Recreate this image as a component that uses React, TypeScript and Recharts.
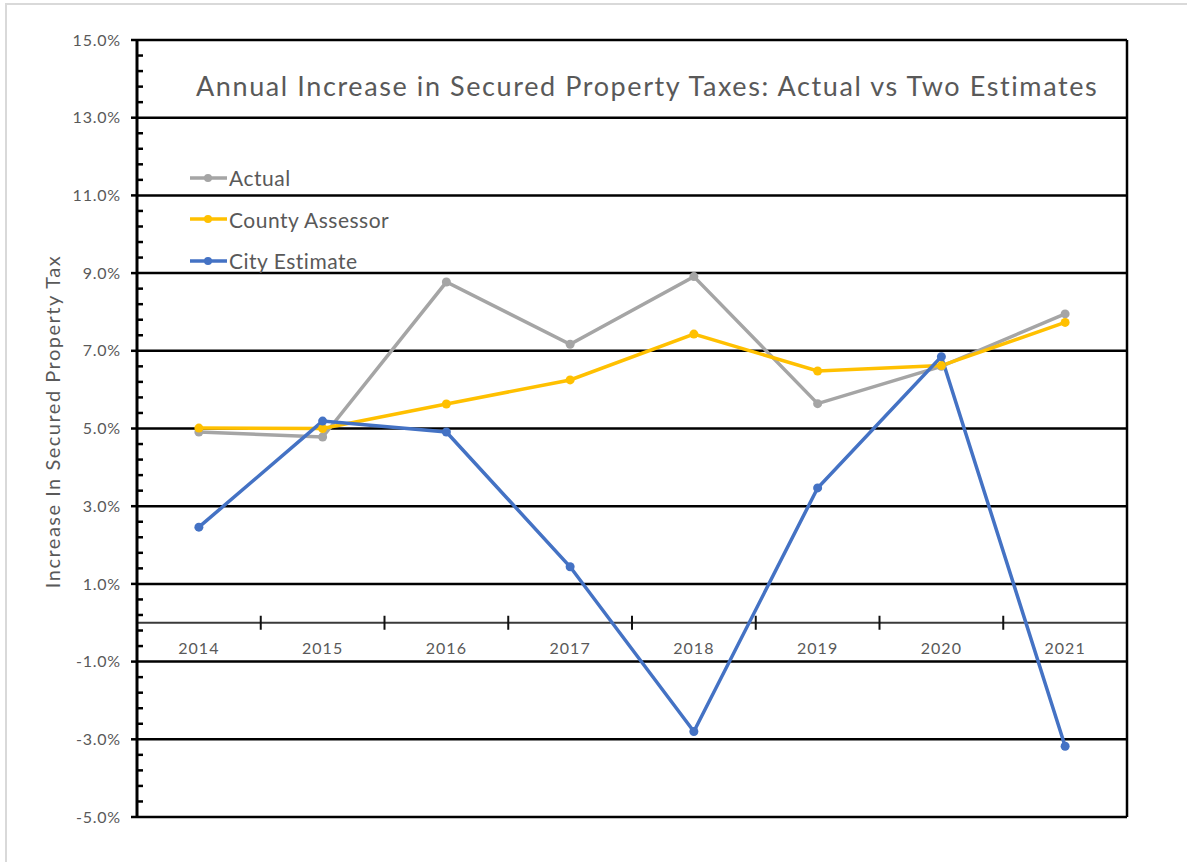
import React from "react";
import {
  LineChart,
  Line,
  XAxis,
  YAxis,
  CartesianGrid,
  ReferenceLine,
  Legend,
} from "recharts";

const years = ["2014", "2015", "2016", "2017", "2018", "2019", "2020", "2021"];
const actual = [4.91, 4.78, 8.77, 7.17, 8.91, 5.64, 6.6, 7.95];
const countyAssessor = [5.01, 5.0, 5.63, 6.25, 7.43, 6.48, 6.62, 7.73];
const cityEstimate = [2.46, 5.19, 4.91, 1.44, -2.8, 3.47, 6.85, -3.18];

const majorTicks = [-5, -3, -1, 1, 3, 5, 7, 9, 11, 13, 15];
// minor ticks every 0.4 (they include the major ones)
const allTicks = Array.from({ length: 51 }, (_, i) => -5 + i * 0.4);

const seriesInfo = [
  { key: "actual", name: "Actual", color: "#a5a5a5" },
  { key: "county", name: "County Assessor", color: "#ffc000" },
  { key: "city", name: "City Estimate", color: "#4472c4" },
];

const data = years.map((year, i) => ({
  year,
  actual: actual[i],
  county: countyAssessor[i],
  city: cityEstimate[i],
}));

const FONT = "Lato, 'Open Sans', sans-serif";
const TEXT = "#595959";

const isMajor = (v: number) => majorTicks.some((m) => Math.abs(m - v) < 1e-6);

// y ticks: major ticks point out with a label, minor ticks point in
const YTick = (props: any) => {
  const { x, y, payload } = props;
  const v = payload.value;
  if (isMajor(v)) {
    return (
      <g>
        <line x1={x - 6} x2={x} y1={y} y2={y} stroke="#000" strokeWidth={2.5} />
        <text
          x={x - 16}
          y={y}
          dy="0.35em"
          textAnchor="end"
          fill={TEXT}
          fontSize={16}
          letterSpacing={0.8}
          fontFamily={FONT}
        >
          {`${Math.round(v).toFixed(1)}%`}
        </text>
      </g>
    );
  }
  return <line x1={x} x2={x + 6} y1={y} y2={y} stroke="#000" strokeWidth={2.5} />;
};

// x axis drawn on the zero line, Excel style: ticks between categories
const ZeroAxis = (props: any) => {
  const { x1, x2, y1 } = props;
  const band = (x2 - x1) / years.length;
  return (
    <g>
      <line x1={x1} x2={x2} y1={y1} y2={y1} stroke="#3a3a3a" strokeWidth={2} />
      {years.map((y, i) => (
        <g key={y}>
          {i > 0 && (
            <line
              x1={x1 + band * i}
              x2={x1 + band * i}
              y1={y1 - 7}
              y2={y1 + 7}
              stroke="#111"
              strokeWidth={2}
            />
          )}
          <text
            x={x1 + band * (i + 0.5)}
            y={y1 + 31}
            textAnchor="middle"
            fill={TEXT}
            fontSize={16}
            letterSpacing={1}
            fontFamily={FONT}
          >
            {y}
          </text>
        </g>
      ))}
    </g>
  );
};

const renderLegend = (props: any) => {
  const items = [...(props.payload || [])].sort(
    (a: any, b: any) =>
      seriesInfo.findIndex((s) => s.name === a.value) -
      seriesInfo.findIndex((s) => s.name === b.value)
  );
  return (
    <div style={{ fontFamily: FONT }}>
      {items.map((item: any) => (
        <div
          key={item.value}
          style={{ display: "flex", alignItems: "center", height: 41.5 }}
        >
          <svg width={38} height={12}>
            <line x1={0} x2={37} y1={6} y2={6} stroke={item.color} strokeWidth={3.5} />
            <circle cx={18} cy={6} r={4} fill={item.color} />
          </svg>
          <span style={{ fontSize: 21, color: TEXT, marginLeft: 1, letterSpacing: 0.5 }}>
            {item.value}
          </span>
        </div>
      ))}
    </div>
  );
};

const YLabel = (props: any) => {
  const { viewBox } = props;
  const cx = 52;
  const cy = viewBox.y + viewBox.height / 2 - 7;
  return (
    <text
      x={cx}
      y={cy}
      transform={`rotate(-90 ${cx} ${cy})`}
      textAnchor="middle"
      dominantBaseline="central"
      fill={TEXT}
      fontSize={20}
      letterSpacing={1.5}
      fontFamily={FONT}
    >
      Increase In Secured Property Tax
    </text>
  );
};

export default function App() {
  return (
    <div
      style={{
        position: "absolute",
        left: 0,
        top: 0,
        width: 1187,
        height: 862,
        overflow: "hidden",
        background: "#fff",
      }}
    >
      <div
        style={{
          position: "absolute",
          left: 5,
          top: 3,
          width: 1400,
          height: 1000,
          borderLeft: "2px solid #d9d9d9",
          borderTop: "2px solid #d9d9d9",
        }}
      />
      <div
        style={{
          position: "absolute",
          left: 196,
          top: 69,
          fontFamily: FONT,
          fontSize: 27,
          letterSpacing: 1.6,
          color: TEXT,
          whiteSpace: "nowrap",
        }}
      >
        Annual Increase in Secured Property Taxes: Actual vs Two Estimates
      </div>
      <div style={{ position: "absolute", left: 0, top: 0 }}>
        <LineChart
          width={1187}
          height={862}
          data={data}
          margin={{ top: 40, right: 0, bottom: 45, left: 0 }}
        >
          <CartesianGrid
            vertical={false}
            stroke="#000"
            strokeWidth={2.5}
            horizontalValues={majorTicks}
          />
          <XAxis dataKey="year" scale="band" hide />
          <YAxis
            domain={[-5, 15]}
            ticks={allTicks}
            interval={0}
            width={137}
            tick={<YTick />}
            tickSize={0}
            tickMargin={0}
            tickLine={false}
            axisLine={{ stroke: "#000", strokeWidth: 3 }}
            label={<YLabel />}
          />
          <YAxis
            yAxisId="right"
            orientation="right"
            domain={[-5, 15]}
            width={60}
            tick={false}
            tickLine={false}
            axisLine={{ stroke: "#000", strokeWidth: 2.5 }}
          />
          <ReferenceLine y={0} shape={(p: any) => <ZeroAxis {...p} />} />
          <Legend
            layout="vertical"
            align="center"
            verticalAlign="middle"
            wrapperStyle={{ left: 190, top: 157, width: 260 }}
            content={renderLegend}
          />
          {seriesInfo.map((s) => (
            <Line
              key={s.key}
              dataKey={s.key}
              name={s.name}
              stroke={s.color}
              strokeWidth={3.5}
              dot={{ r: 4.5, fill: s.color, stroke: s.color, strokeWidth: 0 }}
              activeDot={false}
              isAnimationActive={false}
              legendType="line"
            />
          ))}
        </LineChart>
      </div>
    </div>
  );
}
